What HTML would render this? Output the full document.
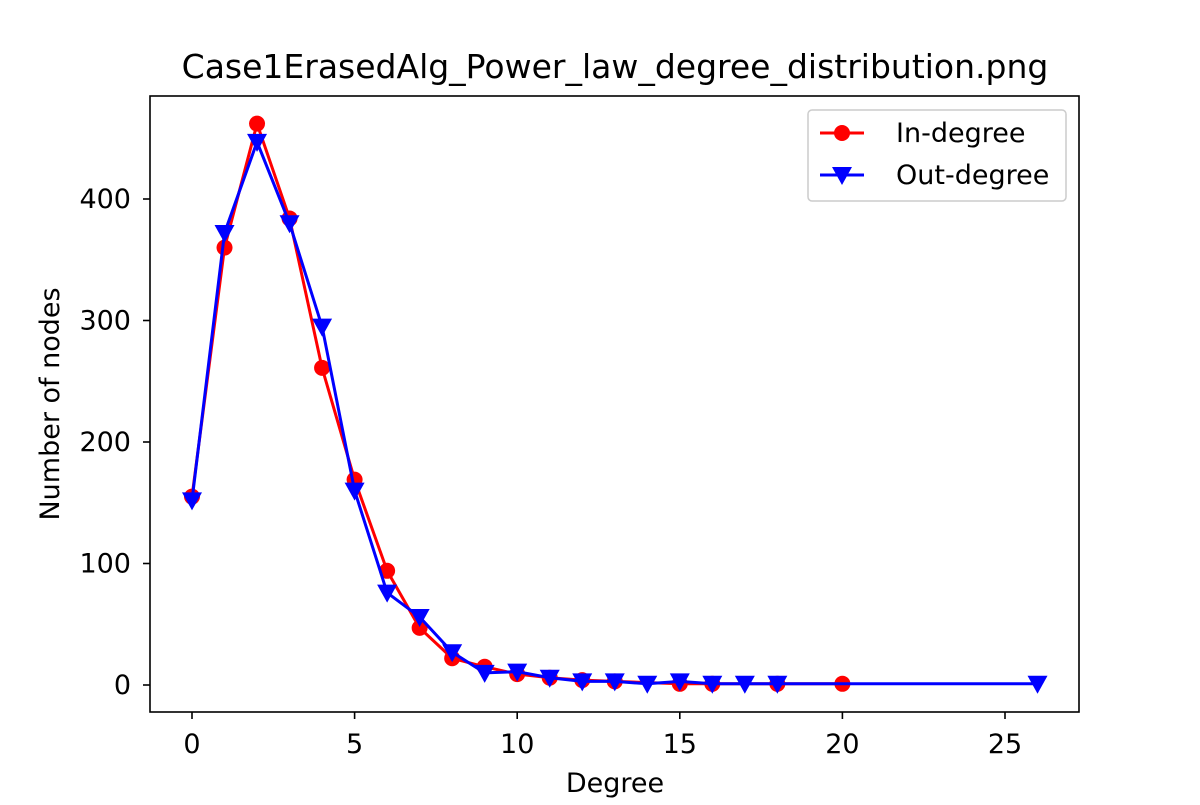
<!DOCTYPE html>
<html><head><meta charset="utf-8"><style>
body{margin:0;background:#fff;font-family:"Liberation Sans","DejaVu Sans",sans-serif;}
svg text{font-family:"DejaVu Sans","Liberation Sans",sans-serif;}
</style></head><body>
<svg id="chart" width="1200" height="800">
<text x="615" y="78" text-anchor="middle" font-size="33">Case1ErasedAlg_Power_law_degree_distribution.png</text>
<g id="plot"></g>
<rect x="150" y="96" width="929" height="616" fill="none" stroke="#000" stroke-width="1.6"/>
<text x="615" y="792" text-anchor="middle" font-size="27">Degree</text>
<text transform="translate(59,404) rotate(-90)" text-anchor="middle" font-size="27">Number of nodes</text>
<g>
<rect x="808" y="110" width="258" height="91" rx="4" fill="#fff" stroke="#ccc" stroke-width="1.5"/>
<g>
<line x1="820" y1="133" x2="864" y2="133" stroke="red" stroke-width="3"/>
<circle cx="842" cy="133" r="8" fill="red"/>
<text x="896" y="142" font-size="27">In-degree</text></g>
<g>
<line x1="820" y1="175" x2="864" y2="175" stroke="blue" stroke-width="3"/>
<path d="M832,167 L852,167 L842,185 Z" fill="blue"/>
<text x="896" y="184" font-size="27">Out-degree</text></g>
</g>
</svg>
<script>
const inX=[0,1,2,3,4,5,6,7,8,9,10,11,12,13,15,16,18,20];
const inY=[155,360,462,384,261,169,94,47,22,15,9,6,4,3,1,1,1,1];
const outX=[0,1,2,3,4,5,6,7,8,9,10,11,12,13,14,15,16,17,18,26];
const outY=[152,372,447,380,295,160,76,56,27,10,11,6,3,3,1,3,1,1,1,1];
const xTicks=[0,5,10,15,20,25];
const yTicks=[0,100,200,300,400];
const sx=v=>192+v*32.52;
const sy=v=>685-v*1.215;
const NS="http://www.w3.org/2000/svg";
const g=document.getElementById('plot');
function mk(t,a){const e=document.createElementNS(NS,t);for(const k in a)e.setAttribute(k,a[k]);g.appendChild(e);return e;}
xTicks.forEach(v=>{
 const l=mk('line',{x1:sx(v),x2:sx(v),y1:712,y2:719,stroke:'#000','stroke-width':1.6});
 
 
 const t=mk('text',{x:sx(v),y:753,'text-anchor':'middle','font-size':27});t.textContent=v;
 
 
});
yTicks.forEach(v=>{
 const l=mk('line',{x1:143,x2:150,y1:sy(v),y2:sy(v),stroke:'#000','stroke-width':1.6});
 
 
 const t=mk('text',{x:131,y:sy(v)+9,'text-anchor':'end','font-size':27});t.textContent=v;
 
 
});
const p1=mk('polyline',{points:inX.map((x,i)=>sx(x)+','+sy(inY[i])).join(' '),fill:'none',stroke:'red','stroke-width':3});


inX.forEach((x,i)=>{const c=mk('circle',{cx:sx(x),cy:sy(inY[i]),r:8,fill:'red'});
 
 });
const p2=mk('polyline',{points:outX.map((x,i)=>sx(x)+','+sy(outY[i])).join(' '),fill:'none',stroke:'blue','stroke-width':3});


outX.forEach((x,i)=>{const X=sx(x),Y=sy(outY[i]);
 const m=mk('path',{d:`M${X-10},${Y-8} L${X+10},${Y-8} L${X},${Y+10} Z`,fill:'blue'});
 
 });
</script>
</body></html>
